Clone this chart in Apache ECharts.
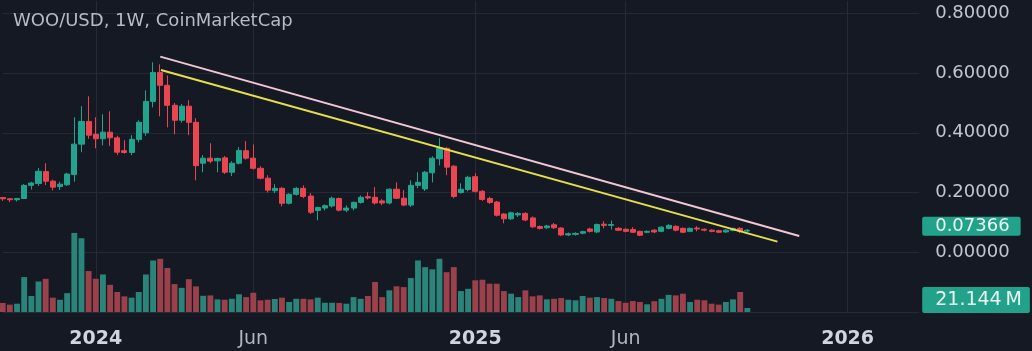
<!DOCTYPE html>
<html>
<head>
<meta charset="utf-8">
<script src="https://cdn.jsdelivr.net/npm/echarts@6/dist/echarts.min.js"></script>
<style>
html,body{margin:0;padding:0;background:#151924;}
#chart{width:1032px;height:351px;}
</style>
</head>
<body>
<div id="chart"></div>
<script>
// ---- DATA ----
const titleText = 'WOO/USD, 1W, CoinMarketCap';
const firstWeek = '2023-10-02';      // Monday of the first weekly candle
const weekCount = 129;               // weeks on the axis (incl. empty future weeks)
// weekly candles: [open, close, low, high]
const candles = [
  [0.183,0.179,0.172,0.185],[0.179,0.176,0.168,0.181],[0.176,0.180,0.170,0.182],[0.180,0.224,0.178,0.228],
  [0.224,0.232,0.210,0.236],[0.230,0.271,0.222,0.282],[0.270,0.238,0.225,0.298],[0.238,0.218,0.207,0.243],
  [0.220,0.228,0.209,0.236],[0.226,0.262,0.222,0.266],[0.260,0.362,0.236,0.452],[0.362,0.438,0.335,0.489],
  [0.438,0.392,0.380,0.522],[0.395,0.380,0.348,0.452],[0.380,0.402,0.358,0.462],[0.402,0.383,0.356,0.472],
  [0.383,0.335,0.326,0.390],[0.340,0.334,0.330,0.375],[0.334,0.378,0.325,0.392],[0.378,0.435,0.368,0.442],
  [0.400,0.505,0.390,0.542],[0.505,0.602,0.485,0.636],[0.602,0.559,0.455,0.629],[0.559,0.492,0.418,0.592],
  [0.492,0.442,0.395,0.500],[0.442,0.489,0.434,0.496],[0.489,0.435,0.392,0.509],[0.435,0.290,0.241,0.449],
  [0.298,0.315,0.268,0.325],[0.315,0.305,0.298,0.365],[0.306,0.314,0.268,0.317],[0.316,0.268,0.262,0.322],
  [0.268,0.298,0.255,0.305],[0.298,0.341,0.294,0.352],[0.340,0.315,0.310,0.372],[0.315,0.281,0.277,0.361],
  [0.281,0.248,0.244,0.288],[0.248,0.208,0.200,0.258],[0.206,0.214,0.198,0.228],[0.214,0.164,0.154,0.218],
  [0.164,0.194,0.160,0.198],[0.194,0.214,0.190,0.218],[0.214,0.187,0.181,0.224],[0.188,0.134,0.128,0.198],
  [0.140,0.150,0.107,0.152],[0.148,0.156,0.140,0.160],[0.155,0.181,0.150,0.186],[0.180,0.141,0.137,0.183],
  [0.141,0.148,0.134,0.157],[0.148,0.167,0.140,0.170],[0.167,0.184,0.163,0.190],[0.186,0.182,0.177,0.201],
  [0.184,0.165,0.160,0.218],[0.172,0.165,0.158,0.178],[0.165,0.211,0.160,0.214],[0.211,0.181,0.178,0.234],
  [0.181,0.158,0.154,0.208],[0.158,0.224,0.152,0.241],[0.224,0.234,0.214,0.268],[0.212,0.268,0.205,0.272],
  [0.266,0.315,0.234,0.321],[0.313,0.348,0.291,0.382],[0.348,0.285,0.258,0.352],[0.288,0.187,0.181,0.292],
  [0.200,0.211,0.196,0.231],[0.210,0.251,0.204,0.256],[0.253,0.204,0.200,0.264],[0.204,0.177,0.172,0.208],
  [0.180,0.167,0.162,0.186],[0.168,0.124,0.120,0.172],[0.128,0.112,0.097,0.131],[0.112,0.132,0.108,0.136],
  [0.125,0.130,0.118,0.135],[0.130,0.108,0.104,0.134],[0.115,0.085,0.082,0.120],[0.086,0.080,0.076,0.090],
  [0.082,0.088,0.078,0.092],[0.092,0.082,0.078,0.098],[0.081,0.058,0.054,0.084],[0.058,0.062,0.054,0.066],
  [0.060,0.063,0.056,0.067],[0.064,0.069,0.060,0.072],[0.078,0.070,0.066,0.082],[0.068,0.093,0.064,0.096],
  [0.094,0.090,0.080,0.104],[0.090,0.093,0.076,0.106],[0.080,0.074,0.071,0.084],[0.077,0.070,0.067,0.080],
  [0.076,0.067,0.064,0.084],[0.070,0.057,0.054,0.072],[0.067,0.070,0.064,0.073],[0.074,0.068,0.064,0.077],
  [0.070,0.084,0.067,0.087],[0.080,0.090,0.077,0.094],[0.087,0.074,0.070,0.090],[0.080,0.067,0.064,0.083],
  [0.070,0.080,0.067,0.083],[0.081,0.078,0.070,0.087],[0.077,0.074,0.070,0.080],[0.074,0.070,0.067,0.077],
  [0.072,0.067,0.064,0.075],[0.068,0.074,0.065,0.077],[0.073,0.080,0.070,0.082],[0.080,0.070,0.064,0.084],
  [0.071,0.07366,0.068,0.078]
];
// weekly volume, millions
const volumes = [
  48,39,44,185,85,162,176,76,65,100,419,391,217,176,199,144,106,83,76,106,
  199,273,282,233,148,128,174,136,86,88,67,65,70,94,79,102,62,65,69,76,
  53,70,70,67,76,49,49,48,44,79,70,85,159,79,115,136,132,180,273,238,
  226,282,211,238,111,123,168,171,150,150,111,97,79,115,83,88,67,70,74,65,
  62,85,76,79,74,70,58,49,58,53,41,57,70,91,88,97,53,65,62,44,
  39,53,67,106,21.144
];
// x-axis tick labels: [week date, text, isYear]
const tickLabels = [
  ['2024-01-01','2024',true],['2024-06-03','Jun',false],['2025-01-06','2025',true],
  ['2025-06-02','Jun',false],['2026-01-05','2026',true]
];
// price tick values
const priceTicks = [0, 0.2, 0.4, 0.6, 0.8];
// trend lines: [week index, price]
const pinkTrend = [[22.0, 0.655],[111.25, 0.0546]];
const yellowTrend = [[22.1, 0.610],[108.2, 0.0355]];

// ---- BUILD ----
const FONT = 'DejaVu Sans';
const UP = '#22a38d', DOWN = '#ea4652';
const UPV = '#2a8479', DOWNV = '#9a414b';
const startMs = Date.parse(firstWeek + 'T00:00:00Z');
const cats = [];
for (let i = 0; i < weekCount; i++) {
  cats.push(new Date(startMs + i * 7 * 86400000).toISOString().slice(0, 10));
}
const tickMap = {};
tickLabels.forEach(t => { tickMap[t[0]] = t; });
const volData = volumes.map((v, i) => ({
  value: v,
  itemStyle: { color: candles[i][1] >= candles[i][0] ? UPV : DOWNV }
}));
const lastClose = candles[candles.length - 1][1];
const lastVol = volumes[volumes.length - 1];

function lastValueMark(value, text, fontSize, padding, offsetY) {
  return {
    silent: true, symbol: ['none', 'none'], animation: false,
    lineStyle: { color: 'rgba(0,0,0,0)', width: 1, opacity: 1 },
    label: {
      show: true, position: 'end', distance: 3,
      formatter: () => text,
      backgroundColor: '#22a28a', color: '#eaf6f2', fontSize: fontSize, fontFamily: FONT,
      padding: padding, borderRadius: 2, offset: [0, offsetY], opacity: 1
    },
    emphasis: { disabled: true },
    data: [{ yAxis: value }]
  };
}

const chart = echarts.init(document.getElementById('chart'), null, { renderer: 'canvas' });
chart.setOption({
  animation: false,
  backgroundColor: '#151924',
  textStyle: { fontFamily: FONT },
  title: {
    text: titleText, left: 13, top: 12, padding: 0,
    textStyle: { color: '#b8bbc3', fontSize: 18, fontWeight: 'normal', fontFamily: FONT }
  },
  grid: [
    { left: 2.7, right: 112.8, top: 1.35, bottom: 39 },
    { left: 2.7, right: 112.8, top: 212, bottom: 39 }
  ],
  xAxis: [
    {
      type: 'category', gridIndex: 0, data: cats, boundaryGap: false,
      axisLine: { show: false }, axisTick: { show: false },
      axisLabel: {
        interval: (i, v) => !!tickMap[v],
        margin: 18,
        formatter: v => tickMap[v] ? (tickMap[v][2] ? '{y|' + tickMap[v][1] + '}' : '{m|' + tickMap[v][1] + '}') : '',
        rich: {
          y: { fontFamily: FONT, fontSize: 19, fontWeight: 'bold', color: '#d1d4dc' },
          m: { fontFamily: FONT, fontSize: 19, color: '#b2b5be' }
        }
      },
      splitLine: { show: true, interval: (i, v) => !!tickMap[v], lineStyle: { color: '#262a36', width: 1 } }
    },
    { type: 'category', gridIndex: 1, data: cats, boundaryGap: false, show: false },
    { type: 'value', gridIndex: 0, min: 0, max: weekCount - 1, show: false }
  ],
  yAxis: [
    {
      type: 'value', gridIndex: 0, position: 'right', min: -0.2, max: 0.84, interval: 0.2,
      axisLine: { show: false }, axisTick: { show: false },
      axisLabel: {
        margin: 16, color: '#c3c6ce', fontSize: 18, fontFamily: FONT,
        formatter: v => {
          const r = Math.round(v * 100) / 100;
          return priceTicks.indexOf(r) >= 0 ? r.toFixed(5) : '';
        }
      },
      splitLine: { show: true, showMaxLine: false, lineStyle: { color: '#252935', width: 1 } }
    },
    { type: 'value', gridIndex: 1, min: 0, max: 530, show: false }
  ],
  series: [
    {
      type: 'bar', xAxisIndex: 1, yAxisIndex: 1, data: volData, barWidth: '82%', z: 1,
      clip: false,
      markLine: lastValueMark(lastVol, lastVol.toFixed(3) + '\u2009M', 19, [4, 8, 3, 13], -8)
    },
    {
      type: 'candlestick', xAxisIndex: 0, yAxisIndex: 0, data: candles, barWidth: '78%', z: 3,
      clip: false,
      itemStyle: { color: UP, color0: DOWN, borderColor: UP, borderColor0: DOWN, borderWidth: 1 },
      markLine: lastValueMark(lastClose, lastClose.toFixed(5), 18, [1, 11, 0, 13], -5)
    },
    {
      type: 'line', xAxisIndex: 2, yAxisIndex: 0, data: pinkTrend, symbol: 'none', z: 5,
      lineStyle: { color: '#f1c7d1', width: 2 }
    },
    {
      type: 'line', xAxisIndex: 2, yAxisIndex: 0, data: yellowTrend, symbol: 'none', z: 5,
      lineStyle: { color: '#e6de4c', width: 2 }
    }
  ]
});
</script>
</body>
</html>
